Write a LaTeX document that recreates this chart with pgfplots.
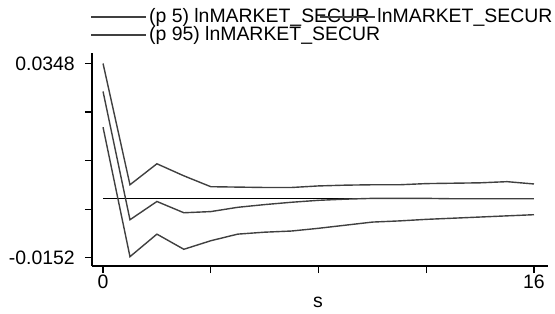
\documentclass[border=0pt]{standalone}
\usepackage{pgfplots}
\pgfplotsset{compat=1.18}
\usepackage{fontspec}
\setmainfont{Liberation Sans}
\pgfplotstableread{
s p5 irf p95
0 0.0184 0.0276 0.0348
1 -0.0149 -0.0054 0.0036
2 -0.0091 -0.0007 0.0090
3 -0.0130 -0.0036 0.0059
4 -0.0108 -0.0033 0.0031
5 -0.0091 -0.0022 0.0030
6 -0.0086 -0.0015 0.0029
7 -0.0083 -0.0009 0.0029
8 -0.0076 -0.0004 0.0033
9 -0.0068 -0.0001 0.0035
10 -0.0060 0.0001 0.0036
11 -0.0057 0.0001 0.0036
12 -0.0053 0.0001 0.0039
13 -0.0050 0.0000 0.0040
14 -0.0047 0.0000 0.0041
15 -0.0044 0.0000 0.0044
16 -0.0041 0.0000 0.0038
}\irfdata
\begin{document}
\begin{tikzpicture}
\useasboundingbox (-92bp,-48bp) rectangle (463bp,266bp);
\begin{axis}[
  scale only axis, width=456bp, height=213bp,
  xmin=-0.41, xmax=16.52, ymin=-0.0173, ymax=0.0375,
  scaled y ticks=false, scaled x ticks=false,
  axis lines=left, axis line style={-, line width=1.4bp, black},
  tick align=outside, major tick length=7bp,
  tick style={black, line width=1.2bp},
  xtick={0,4,8,12,16}, xticklabels={0,,,,16},
  ytick={-0.0152,-0.0027,0.0098,0.0223,0.0348},
  yticklabels={-0.0152,,,,0.0348},
  tick label style={font=\fontsize{19.5}{20}\selectfont, inner sep=0pt},
  xticklabel style={anchor=north, yshift=-2bp},
  yticklabel style={anchor=east, xshift=-10bp},
  xlabel={s},
  xlabel style={font=\fontsize{19.5}{20}\selectfont, at={(axis description cs:0.4956,0)}, anchor=center, yshift=-36.5bp, inner sep=0pt},
  legend columns=2,
  legend cell align=left,
  legend style={at={(axis description cs:0,1)}, anchor=north west, xshift=-1.3bp, yshift=45bp,
    draw=none, fill=none, inner sep=0pt, outer sep=0pt, column sep=2bp, row sep=0pt,
    font=\fontsize{19.5}{20}\selectfont,
    nodes={inner sep=0pt, text height=14bp, text depth=4bp}},
  legend image code/.code={\draw[#1] (0bp,0bp) -- (55bp,0bp);},
]
\addplot[forget plot, black, line width=1.4bp, no marks] coordinates {(0,0) (16,0)};
\addplot[black!75, line width=1.4bp, no marks] table[x=s, y=p5] {\irfdata};
\addlegendentry{\makebox[168bp][l]{(p 5) lnMARKET\_SECUR}}
\addplot[black!75, line width=1.4bp, no marks] table[x=s, y=irf] {\irfdata};
\addlegendentry{lnMARKET\_SECUR}
\addplot[black!75, line width=1.4bp, no marks] table[x=s, y=p95] {\irfdata};
\addlegendentry{\makebox[168bp][l]{(p 95) lnMARKET\_SECUR}}
\end{axis}
\end{tikzpicture}
\end{document}
